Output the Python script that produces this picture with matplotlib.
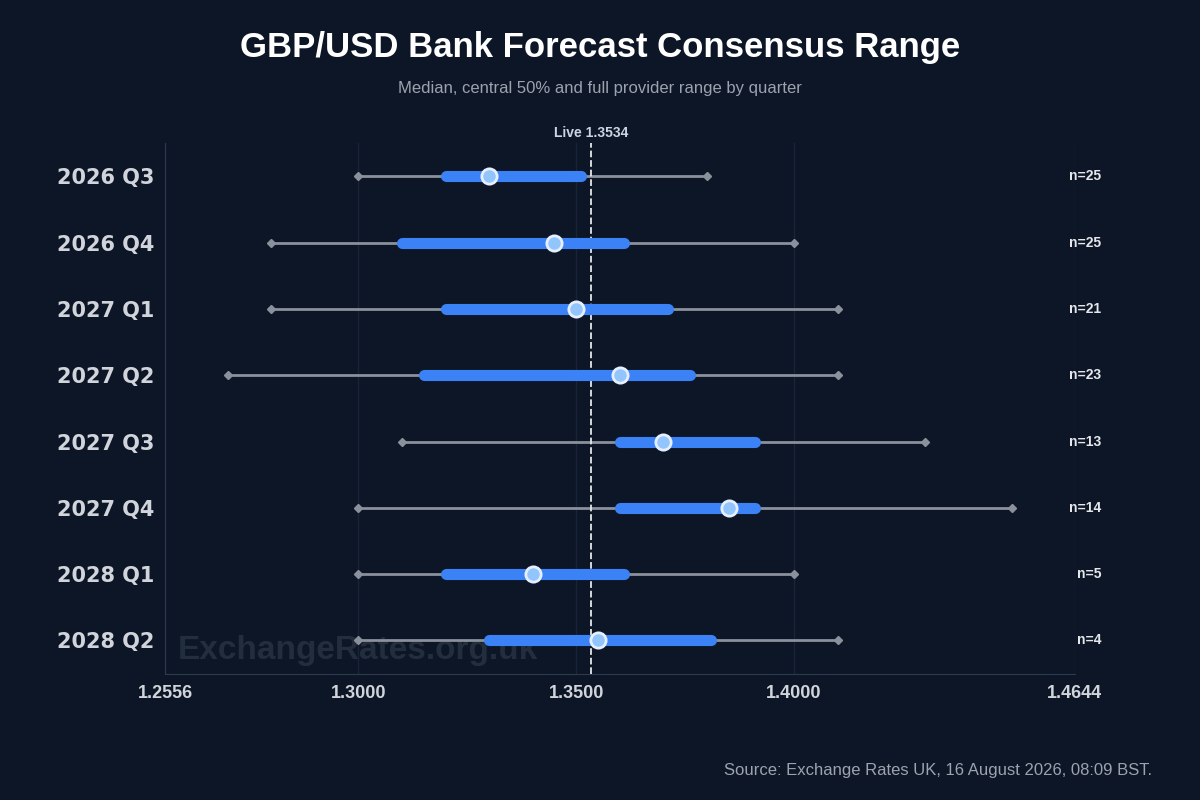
import matplotlib.pyplot as plt

# Bank forecast consensus per quarter
quarters = ["2026 Q3", "2026 Q4", "2027 Q1", "2027 Q2", "2027 Q3", "2027 Q4", "2028 Q1", "2028 Q2"]
lows = [1.30, 1.28, 1.28, 1.27, 1.31, 1.30, 1.30, 1.30]
highs = [1.38, 1.40, 1.41, 1.41, 1.43, 1.45, 1.40, 1.41]
q1 = [1.32, 1.31, 1.32, 1.315, 1.36, 1.36, 1.32, 1.33]
q3 = [1.351, 1.361, 1.371, 1.376, 1.391, 1.391, 1.361, 1.381]
medians = [1.33, 1.345, 1.35, 1.36, 1.37, 1.385, 1.34, 1.355]
counts = [25, 25, 21, 23, 13, 14, 5, 4]
live = 1.3534
xticks = [1.2556, 1.3000, 1.3500, 1.4000, 1.4644]

bg = '#0d1626'
plt.rcParams['font.family'] = 'Liberation Sans'

fig = plt.figure(figsize=(12, 8), facecolor=bg)
ax = fig.add_axes([0.1375, 0.158, 0.758, 0.663], facecolor=bg)

ys = list(range(len(quarters)))

# Full range whiskers
ax.hlines(ys, lows, highs, color='#8a919c', linewidth=2, zorder=2)
ax.plot(lows, ys, 'D', color='#8a919c', markersize=4, zorder=3)
ax.plot(highs, ys, 'D', color='#8a919c', markersize=4, zorder=3)

# Central 50%
ax.hlines(ys, q1, q3, color='#3b82f6', linewidth=8, capstyle='round', zorder=4)

# Medians
ax.plot(medians, ys, 'o', color='#93c5fd', markeredgecolor='#e5efff', markeredgewidth=2, markersize=11, zorder=5)

# Live rate
ax.axvline(live, color='#e5e7eb', linestyle='--', linewidth=1.3, zorder=3)
ax.text(live, -0.55, f"Live {live:.4f}", ha='center', va='bottom', color='#cbd5e1', fontsize=10, fontweight='bold')

for y, n in zip(ys, counts):
    ax.text(1.4705, y, f"n={n}", ha='right', va='center', color='#e5e7eb', fontsize=10, fontweight='bold')

ax.text(1.2586, 7.15, "ExchangeRates.org.uk", color='#222d3e', fontsize=24, fontweight='bold', va='center', zorder=1)

ax.set_xlim(1.2556, 1.4644)
ax.set_ylim(7.5, -0.5)
ax.set_xticks(xticks)
ax.set_xticklabels([f"{t:.4f}" for t in xticks], color='#d1d5db', fontsize=13, fontweight='bold')
ax.set_yticks(ys)
ax.set_yticklabels(quarters, color='#d1d5db', fontsize=15, fontweight='bold', family='DejaVu Sans')
ax.tick_params(length=0, pad=8)
ax.grid(axis='x', color='#19233a', linewidth=1)
ax.set_axisbelow(True)
for s in ['top', 'right']:
    ax.spines[s].set_visible(False)
for s in ['left', 'bottom']:
    ax.spines[s].set_color('#2e3a4e')

fig.text(0.5, 0.94, "GBP/USD Bank Forecast Consensus Range", ha='center', va='center', color='white', fontsize=25, fontweight='bold')
fig.text(0.5, 0.89, "Median, central 50% and full provider range by quarter", ha='center', va='center', color='#9ca3af', fontsize=12)
fig.text(0.96, 0.037, "Source: Exchange Rates UK, 16 August 2026, 08:09 BST.", ha='right', va='center', color='#9ca3af', fontsize=12)

fig.savefig('out.png', dpi=100, facecolor=bg)
